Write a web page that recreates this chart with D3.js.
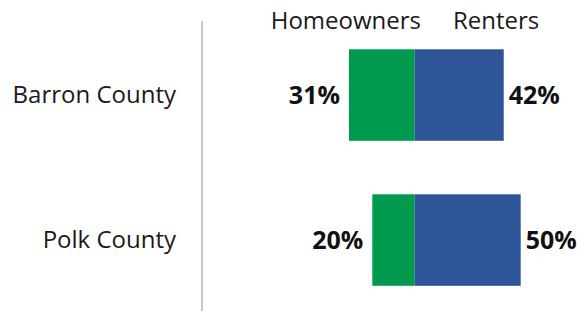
<!DOCTYPE html>
<html>
<head>
<meta charset="utf-8">
<script src="https://cdn.jsdelivr.net/npm/d3@7"></script>
<style>
  body { margin: 0; background: #fff; }
</style>
</head>
<body>
<div id="chart"></div>
<script>
// data
const counties = ['Barron County', 'Polk County'];
const homeowners = [31, 20];
const renters = [42, 50];
const seriesNames = ['Homeowners', 'Renters'];
const seriesColors = ['#009a4e', '#2e5597'];

const width = 585, height = 311;
const font = "'Open Sans', 'Noto Sans', sans-serif";

const svg = d3.select('#chart').append('svg')
    .attr('width', width)
    .attr('height', height);

// center line of the diverging bars sits at x(0)
const x = d3.scaleLinear()
    .domain([0, 50])
    .range([414.7, 520.7]);

const y = d3.scaleBand()
    .domain(counties)
    .range([49.3, 285.8])
    .paddingInner(0.369)
    .paddingOuter(0);

// separator line
svg.append('line')
    .attr('x1', 202).attr('x2', 202)
    .attr('y1', 21).attr('y2', height)
    .attr('stroke', '#c8c8c8')
    .attr('stroke-width', 2);

// series headers
svg.append('text')
    .attr('x', 421)
    .attr('y', 21)
    .attr('dy', '0.35em')
    .attr('text-anchor', 'end')
    .style('font-family', font)
    .style('font-size', '24px')
    .style('fill', '#1a1a1a')
    .text(seriesNames[0]);

svg.append('text')
    .attr('x', 453)
    .attr('y', 21)
    .attr('dy', '0.35em')
    .attr('text-anchor', 'start')
    .style('font-family', font)
    .style('font-size', '24px')
    .style('fill', '#1a1a1a')
    .text(seriesNames[1]);

const rows = svg.selectAll('g.row')
    .data(counties.map((c, i) => ({ name: c, home: homeowners[i], rent: renters[i] })))
    .enter()
    .append('g')
    .attr('class', 'row');

// category labels
rows.append('text')
    .attr('x', 176)
    .attr('y', d => y(d.name) + y.bandwidth() / 2)
    .attr('dy', '0.35em')
    .attr('text-anchor', 'end')
    .style('font-family', font)
    .style('font-size', '24px')
    .style('fill', '#1a1a1a')
    .text(d => d.name);

// homeowners go left of center
rows.append('rect')
    .attr('x', d => x(-d.home))
    .attr('y', d => y(d.name))
    .attr('width', d => x(0) - x(-d.home))
    .attr('height', y.bandwidth())
    .attr('fill', seriesColors[0]);

// renters go right
rows.append('rect')
    .attr('x', x(0))
    .attr('y', d => y(d.name))
    .attr('width', d => x(d.rent) - x(0))
    .attr('height', y.bandwidth())
    .attr('fill', seriesColors[1]);

// value labels
rows.append('text')
    .attr('x', d => x(-d.home) - 9)
    .attr('y', d => y(d.name) + y.bandwidth() / 2)
    .attr('dy', '0.35em')
    .attr('text-anchor', 'end')
    .style('font-family', font)
    .style('font-size', '25px')
    .style('font-weight', 'bold')
    .style('fill', '#111')
    .text(d => d.home + '%');

rows.append('text')
    .attr('x', d => x(d.rent) + 5)
    .attr('y', d => y(d.name) + y.bandwidth() / 2)
    .attr('dy', '0.35em')
    .attr('text-anchor', 'start')
    .style('font-family', font)
    .style('font-size', '25px')
    .style('font-weight', 'bold')
    .style('fill', '#111')
    .text(d => d.rent + '%');
</script>
</body>
</html>
